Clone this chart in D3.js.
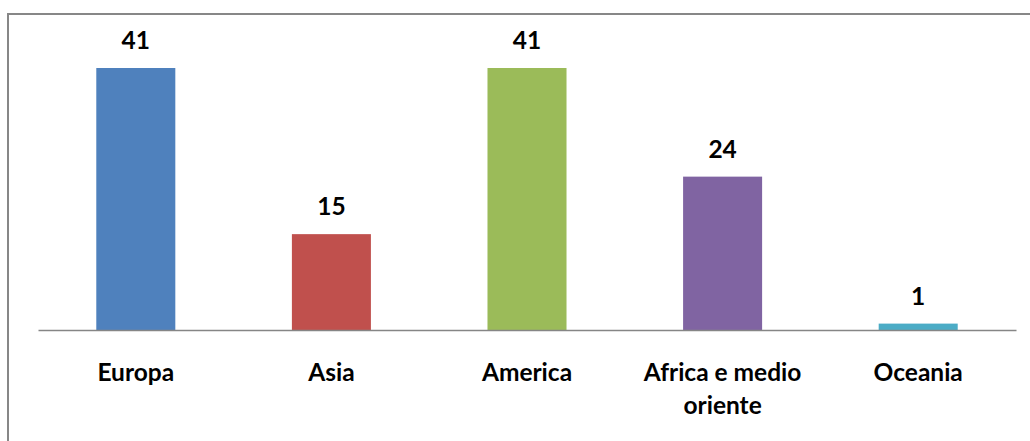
<!DOCTYPE html>
<html><head><meta charset="utf-8">
<script src="https://cdn.jsdelivr.net/npm/d3@7"></script>
<style>html,body{margin:0;padding:0;background:#fff;}svg{display:block;}</style>
</head><body>
<svg id="c" width="1030" height="441"></svg>
<script>
const categories = ["Europa", "Asia", "America", "Africa e medio oriente", "Oceania"];
const tickLabels = [["Europa"], ["Asia"], ["America"], ["Africa e medio", "oriente"], ["Oceania"]];
const values = [41, 15, 41, 24, 1];
const colors = ["#4F81BD", "#C0504D", "#9BBB59", "#8064A2", "#4BACC6"];

const svg = d3.select("#c");
const left = 38, right = 1016, base = 330;
const font = "Lato, 'Open Sans', sans-serif";

// frame (top and left edges visible)
svg.append("line").attr("x1", 8).attr("x2", 1030).attr("y1", 14).attr("y2", 14)
  .attr("stroke", "#878787").attr("stroke-width", 2);
svg.append("line").attr("x1", 8).attr("x2", 8).attr("y1", 13).attr("y2", 441)
  .attr("stroke", "#878787").attr("stroke-width", 2);

const x = d3.scaleBand().domain(categories).range([left, right])
  .paddingInner(0.596).paddingOuter(0.298);
const y = d3.scaleLinear().domain([0, 45]).range([base, base - 45 * 262 / 41]);

svg.selectAll("rect.bar").data(values).enter().append("rect")
  .attr("class", "bar")
  .attr("x", (d, i) => x(categories[i]))
  .attr("width", x.bandwidth())
  .attr("y", d => y(d))
  .attr("height", d => y(0) - y(d))
  .attr("fill", (d, i) => colors[i]);

// axis
const ax = svg.append("g").attr("transform", `translate(0,${base})`)
  .call(d3.axisBottom(x).tickSize(0).tickFormat(""));
ax.select(".domain").attr("stroke", "#868686").attr("stroke-width", 1.5);

// value labels
svg.selectAll("text.val").data(values).enter().append("text")
  .attr("class", "val")
  .attr("x", (d, i) => x(categories[i]) + x.bandwidth() / 2)
  .attr("y", d => y(d) - 19)
  .attr("text-anchor", "middle")
  .attr("font-family", font).attr("font-weight", "bold").attr("font-size", 24.5)
  .attr("fill", "#000")
  .text(d => d);

// category labels
categories.forEach((c, i) => {
  const t = svg.append("text")
    .attr("x", x(c) + x.bandwidth() / 2)
    .attr("y", 381)
    .attr("text-anchor", "middle")
    .attr("font-family", font).attr("font-weight", "bold").attr("font-size", 24.5)
    .attr("fill", "#000");
  tickLabels[i].forEach((ln, j) => {
    t.append("tspan").attr("x", x(c) + x.bandwidth() / 2).attr("dy", j === 0 ? 0 : 33).text(ln);
  });
});
</script>
</body></html>
